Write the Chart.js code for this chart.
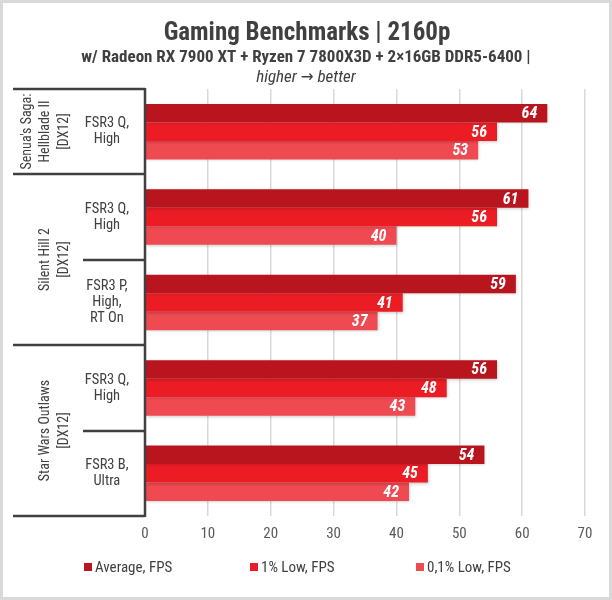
<!DOCTYPE html>
<html>
<head>
<meta charset="utf-8">
<script src="https://cdn.jsdelivr.net/npm/chart.js@4.4.1/dist/chart.umd.min.js"></script>
<style>
    html, body { margin: 0; padding: 0; background: #fff; }
    canvas { display: block; }
</style>
</head>
<body>
<canvas id="bench" width="612" height="600"></canvas>
<script>
const FONT = "'Roboto Condensed', 'Liberation Sans Narrow', 'DejaVu Sans Condensed', Roboto, sans-serif";

const settings = [["FSR3 Q,", "High"], ["FSR3 Q,", "High"], ["FSR3 P,", "High,", "RT On"], ["FSR3 Q,", "High"], ["FSR3 B,", "Ultra"]];
const games = [["Senua's Saga:", "Hellblade II", "[DX12]"], ["Silent Hill 2", "[DX12]"], ["Star Wars Outlaws", "[DX12]"]];
const gameSpans = [1, 2, 2];

const seriesNames = ["Average, FPS", "1% Low, FPS", "0,1% Low, FPS"];
const avgFps = [64, 61, 59, 56, 54];
const low1Fps = [56, 56, 41, 48, 45];
const low01Fps = [53, 40, 37, 43, 42];
const xTicks = [0, 10, 20, 30, 40, 50, 60, 70];

const COLORS = ["#b8151e", "#ec1c24", "#ef4a52"];
const DARK = "#404040";

const frame = {
    id: "frame",
    beforeDraw(chart) {
        const ctx = chart.ctx;
        ctx.save();
        ctx.fillStyle = "#fff";
        ctx.fillRect(0, 0, chart.width, chart.height);
        ctx.strokeStyle = "#d9d9d9";
        ctx.lineWidth = 3;
        ctx.strokeRect(1.5, 1.5, chart.width - 3, chart.height - 3);
        ctx.restore();
    }
};

const header = {
    id: "header",
    afterDraw(chart) {
        const ctx = chart.ctx;
        const cx = chart.width / 2;
        ctx.save();
        ctx.fillStyle = DARK;
        ctx.textAlign = "center";
        ctx.textBaseline = "middle";
        ctx.font = `bold 25px ${FONT}`;
        ctx.fillText("Gaming Benchmarks | 2160p", cx + 1, 34);
        ctx.font = `bold 17px ${FONT}`;
        ctx.fillText("w/ Radeon RX 7900 XT + Ryzen 7 7800X3D + 2×16GB DDR5-6400 |", cx, 58);
        ctx.font = `italic 17px ${FONT}`;
        ctx.fillText("higher → better", cx, 78);
        ctx.restore();
    }
};

// legend drawn in even slots like the original
const legendRow = {
    id: "legendRow",
    afterDraw(chart) {
        const ctx = chart.ctx;
        const startX = 84;
        const slot = 166;
        const y = 567;
        ctx.save();
        ctx.font = `15px ${FONT}`;
        ctx.textBaseline = "middle";
        ctx.textAlign = "left";
        chart.data.datasets.forEach((ds, i) => {
            const x = startX + i * slot;
            ctx.fillStyle = ds.backgroundColor;
            ctx.fillRect(x, y - 4, 8, 8);
            ctx.fillStyle = DARK;
            ctx.fillText(ds.label, x + 11, y + 1);
        });
        ctx.restore();
    }
};

const groups = {
    id: "groups",
    afterDraw(chart) {
        const ctx = chart.ctx;
        const y = chart.scales.y;
        const area = chart.chartArea;
        const left = 13;
        const inner = area.left - 62;
        ctx.save();
        ctx.strokeStyle = DARK;
        ctx.lineWidth = 2.5;
        // axis line
        ctx.beginPath();
        ctx.moveTo(area.left, area.top - 1);
        ctx.lineTo(area.left, area.bottom + 1);
        ctx.stroke();

        let idx = 0;
        const edge = (i) => Math.round(y.getPixelForValue(i - 0.5));
        ctx.beginPath();
        ctx.moveTo(left, edge(0));
        ctx.lineTo(area.left, edge(0));
        ctx.stroke();
        ctx.fillStyle = DARK;
        ctx.textAlign = "center";
        ctx.textBaseline = "middle";
        ctx.font = `14px ${FONT}`;
        games.forEach((lines, g) => {
            const span = gameSpans[g];
            const top = edge(idx);
            const bottom = edge(idx + span);
            for (let k = 1; k < span; k++) {
                ctx.beginPath();
                ctx.moveTo(inner, edge(idx + k));
                ctx.lineTo(area.left, edge(idx + k));
                ctx.stroke();
            }
            ctx.beginPath();
            ctx.moveTo(left, bottom);
            ctx.lineTo(area.left, bottom);
            ctx.stroke();

            // rotated text, last line kept at the same x
            const lastX = 64;
            const cy = (top + bottom) / 2;
            const lh = 18.5;
            ctx.save();
            ctx.translate(lastX, cy);
            ctx.rotate(-Math.PI / 2);
            lines.forEach((t, j) => {
                ctx.fillText(t, 0, (j - (lines.length - 1)) * lh);
            });
            ctx.restore();
            idx += span;
        });
        ctx.restore();
    }
};

const valueLabels = {
    id: "valueLabels",
    afterDatasetsDraw(chart) {
        const ctx = chart.ctx;
        ctx.save();
        ctx.fillStyle = "#fff";
        ctx.textAlign = "right";
        ctx.textBaseline = "middle";
        ctx.font = `italic bold 16px ${FONT}`;
        chart.data.datasets.forEach((ds, i) => {
            chart.getDatasetMeta(i).data.forEach((bar, j) => {
                ctx.fillText(ds.data[j], bar.x - 10, bar.y + 1);
            });
        });
        ctx.restore();
    }
};

const shadow = {
    id: "shadow",
    beforeDatasetsDraw(chart) {
        const ctx = chart.ctx;
        ctx.save();
        ctx.shadowColor = "rgba(0,0,0,0.22)";
        ctx.shadowBlur = 3;
        ctx.shadowOffsetX = 1;
        ctx.shadowOffsetY = 1;
    },
    afterDatasetsDraw(chart) {
        chart.ctx.restore();
    }
};

new Chart(document.getElementById("bench"), {
    type: "bar",
    data: {
        labels: settings,
        datasets: [
            { label: seriesNames[0], data: avgFps, backgroundColor: COLORS[0] },
            { label: seriesNames[1], data: low1Fps, backgroundColor: COLORS[1] },
            { label: seriesNames[2], data: low01Fps, backgroundColor: COLORS[2] }
        ]
    },
    options: {
        indexAxis: "y",
        responsive: false,
        animation: false,
        devicePixelRatio: 1,
        layout: { padding: { top: 89, left: 13, right: 27, bottom: 58 } },
        datasets: { bar: { barPercentage: 1, categoryPercentage: 0.65 } },
        scales: {
            x: {
                min: 0,
                max: 70,
                afterBuildTicks(scale) {
                    scale.ticks = xTicks.map(v => ({ value: v }));
                },
                afterFit(scale) { scale.height = 26; },
                grid: { color: "#d9d9d9", lineWidth: 1.5, drawTicks: false },
                border: { display: false },
                ticks: { color: "#595959", font: { family: FONT, size: 15 }, padding: 9 }
            },
            y: {
                afterFit(scale) { scale.width = 132; },
                grid: { display: false },
                border: { display: false },
                ticks: {
                    color: DARK,
                    crossAlign: "center",
                    padding: 8,
                    font: { family: FONT, size: 14.5, lineHeight: 1.1 }
                }
            }
        },
        plugins: {
            legend: { display: false },
            tooltip: { enabled: false }
        }
    },
    plugins: [frame, header, groups, shadow, valueLabels, legendRow]
});
</script>
</body>
</html>
